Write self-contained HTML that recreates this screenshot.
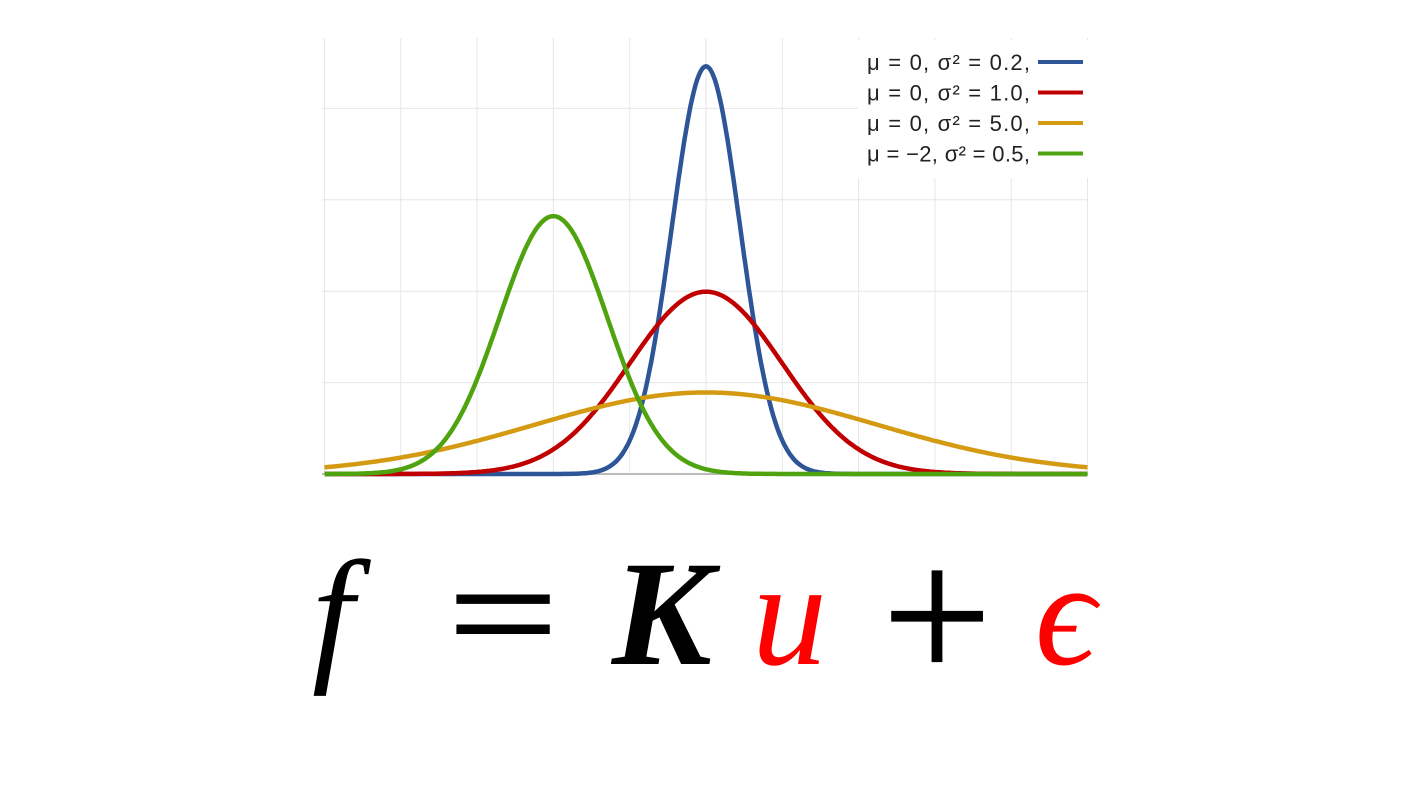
<!DOCTYPE html>
<html><head><meta charset="utf-8"><style>
body{margin:0;background:#fff;width:1410px;height:793px;overflow:hidden}
svg{display:block}
</style></head><body>
<svg width="1410" height="793">
<g id="grid"></g>
<g id="curves"></g>
<g id="legend"></g>
<g font-family="Liberation Serif, serif" font-style="italic" font-size="150">
<text x="312" y="664">f</text>
<text x="0" y="664" font-style="normal" stroke="#000" stroke-width="2" transform="translate(448,0) scale(1.3,1)">=</text>
<text x="612" y="664" font-weight="bold">K</text>
<text x="752" y="664" fill="#f00">u</text>
<text x="882" y="681" font-style="normal" font-size="195" stroke="#000" stroke-width="1">+</text>
<text x="1035" y="664" fill="#f00">ϵ</text>
</g>
</svg>
<script>
const mus=[0,0,0,-2];
const sigma2s=[0.2,1.0,5.0,0.5];
const colors=["#2d5597","#c00000","#d49a12","#4fa30e"];
const legendLabels=["μ = 0,    σ² = 0.2,","μ = 0,    σ² = 1.0,","μ = 0,    σ² = 5.0,","μ = −2, σ² = 0.5,"];
const xTicks=[-5,-4,-3,-2,-1,0,1,2,3,4,5];
const yTicks=[0,0.2,0.4,0.6,0.8];
const NS="http://www.w3.org/2000/svg";
const X=v=>706+v*76.3, Y=v=>474-v*457;
function mk(t,a,p){const e=document.createElementNS(NS,t);for(const k in a)e.setAttribute(k,a[k]);p.appendChild(e);return e;}
const grid=document.getElementById('grid');
xTicks.forEach(t=>{const l=mk('line',{x1:X(t),x2:X(t),y1:38,y2:474,stroke:'#e6e6e6','stroke-width':1},grid);

});
yTicks.forEach(t=>{const l=mk('line',{x1:322,x2:1088,y1:Y(t),y2:Y(t),stroke:t==0?'#bbb':'#e6e6e6','stroke-width':t==0?2:1},grid);

});
const cg=document.getElementById('curves');
mus.forEach((m,i)=>{const s2=sigma2s[i];let d='';
for(let x=-5;x<=5.0001;x+=0.02){const y=Math.exp(-(x-m)*(x-m)/(2*s2))/Math.sqrt(2*Math.PI*s2);d+=(d?'L':'M')+X(x).toFixed(1)+','+Y(y).toFixed(1);}
const p=mk('path',{d:d,fill:'none',stroke:colors[i],'stroke-width':4.5,'stroke-linejoin':'round'},cg);

});
const lg=document.getElementById('legend');
const bg=mk('rect',{x:858,y:40,width:230,height:138,fill:'#fff'},lg);


legendLabels.forEach((t,i)=>{const y=62+i*30.5;
const tx=mk('text',{x:867,y:y+8,'font-family':'Liberation Sans, sans-serif','font-size':22,fill:'#222','xml:space':'preserve',textLength:163,lengthAdjust:'spacing'},lg);
tx.textContent=t;


const ln=mk('line',{x1:1038,x2:1083,y1:y,y2:y,stroke:colors[i],'stroke-width':4},lg);

});
</script>
</body></html>
